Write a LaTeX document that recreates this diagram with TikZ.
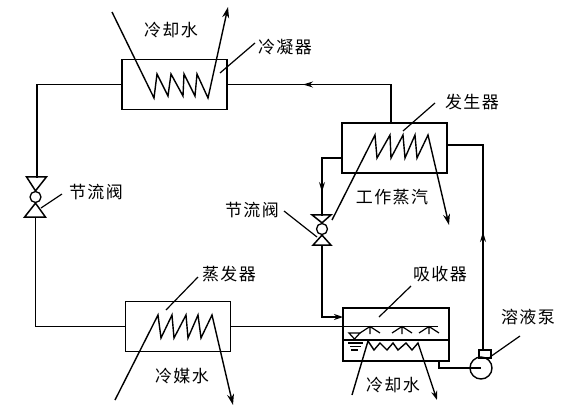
\documentclass[tikz,border=0pt]{standalone}
\usepackage{fontspec}
\setmainfont{Noto Sans CJK SC}[LetterSpace=8]
\usetikzlibrary{arrows.meta,positioning,calc}

\begin{document}
\begin{tikzpicture}[
  x=1pt, y=-1pt,
  font=\fontsize{17}{19}\selectfont,
  box/.style={draw, line width=1.5pt, inner sep=0pt, minimum height=50pt, minimum width=105pt},
  valvecirc/.style={draw, circle, line width=1.3pt, inner sep=0pt, minimum size=11pt},
  pipe/.style={line width=1.2pt},
  arrow/.style={-{Stealth[length=9pt,width=6pt]}, line width=1.2pt},
  midtip/.style={-{Stealth[length=10pt,width=6pt]}, line width=1.2pt},
  lead/.style={line width=1.2pt},
  coil/.style={line width=1.4pt, line join=miter, -{Stealth[length=11pt,width=7pt]}},
  lab/.style={inner sep=0pt}
]
\useasboundingbox (0,0) rectangle (571,407);

% --- Heat exchangers ---------------------------------------------------------
\node[box] (cond) at (174.5,84.5) {};
\node[box] (gen) at (394.5,148) {};
\node[box] (evap) at (178,326.5) {};
\node[box, minimum width=106pt, minimum height=53pt] (abs) at (396,334.5) {};

% --- Valves and pump ---------------------------------------------------------
\node[valvecirc] (vA) at (35.5,197) {};
\node[valvecirc] (vB) at (322,229) {};
\draw[pipe, line width=1.5pt] (vA.north) -- ++(-9,-14) -- ++(20,0) -- cycle;
\draw[pipe, line width=1.5pt] (vA.south) -- ++(-11,14) -- ++(21,0) -- cycle;
\draw[pipe, line width=1.5pt] (vB.north) -- ++(-10,-8) -- ++(19,0) -- cycle;
\draw[pipe, line width=1.5pt] (vB.south) -- ++(-9,10) -- ++(18,0) -- cycle;
\node[draw, circle, line width=1.4pt, inner sep=0pt, minimum size=22pt] (pump) at (481,368) {};
\node[draw, line width=1.2pt, inner sep=0pt, minimum width=12pt, minimum height=8pt] (pumpout) at (485,354) {};

% --- Pipes -------------------------------------------------------------------
\coordinate (valveA) at ($(vA)+(1.5,-19)$);
\coordinate (valveAb) at ($(vA)+(0,20)$);
\coordinate (valveBt) at ($(vB)+(0,-13)$);
\coordinate (valveBb) at ($(vB)+(0,16)$);
\coordinate (cTip) at (303,84.5);
\coordinate (gUp) at (391,84.5);
\coordinate (gLeft) at (342,158);
\coordinate (gRight) at (447,145);
\coordinate (sprayEnd) at (438,326.5);
\coordinate (absOut) at (439,361);
\coordinate (pumpIn) at (483,350);
\coordinate (absIn) at (343,317);

\draw[pipe] (cond.west) -| (valveA);
\draw[pipe] (valveAb) |- (evap.west);
\draw[pipe] (cond.east) -- (gUp) -- (gen.north -| gUp);
\draw[midtip] (gUp) -- (cTip);
\draw[pipe] (gLeft) -| (valveBt);
\draw[midtip] (gLeft -| valveBt) -- ++(0,34);
\draw[arrow] (valveBb) |- (absIn);
\draw[pipe] (evap.east) -- (sprayEnd);
\draw[pipe] (gRight) -| (pumpIn);
\draw[midtip] (483,260) -- (483,232);
\draw[pipe] (absOut) |- (pump.center);

% --- Coils -------------------------------------------------------------------
\draw[coil] (112,12) -- (154,98) -- (157,74) -- (168,96) -- (171,74) -- (183,96) -- (184,74) -- (195,96) -- (197,74) -- (208,98) -- (228,7);
\draw[coil] (332,220) -- (375,135) -- (377,158) -- (390,135) -- (391,158) -- (403,135) -- (405,158) -- (415,135) -- (417,158) -- (428,135) -- (449,225);
\draw[coil] (115,400) -- (158,315) -- (161,338) -- (172,315) -- (174,338) -- (186,315) -- (188,338) -- (198,315) -- (201,338) -- (212,315) -- (233,405);
\draw[coil, -{Stealth[length=9pt,width=6pt]}] (352,395) -- (368,341) -- (374,350) -- (380,343) -- (387,350) -- (393,343) -- (398,350) -- (406,343) -- (412,350) -- (418,343) -- (437,400);

% --- Absorber details --------------------------------------------------------
\draw[pipe] (abs.west |- 0,340) -- (abs.east |- 0,340);
\draw[pipe] (349,333) -- (360,333) -- (354.5,339) -- cycle;
\draw[pipe] (348,343) -- (363,343) (350,346.5) -- (361,346.5) (351,350) -- (358,350);
\foreach \sx in {370,402,429}
  \draw[pipe] (\sx,334) -- (\sx,326.5) (\sx-10,333) -- (\sx,326.5) -- (\sx+10,333);

% --- Labels and leaders ------------------------------------------------------
\node[lab] (tCool) at (171,30) {冷却水};
\node[lab] (tCond) at (285,47) {冷凝器};
\node[lab] (tGen) at (472,102) {发生器};
\node[lab] (tSteam) at (392,197) {工作蒸汽};
\node[lab] (tVA) at (96,192) {节流阀};
\node[lab] (tVB) at (252,210) {节流阀};
\node[lab] (tEvap) at (229,274) {蒸发器};
\node[lab] (tChill) at (182,376) {冷媒水};
\node[lab] (tAbs) at (440,274) {吸收器};
\node[lab] (tCoolB) at (393,385) {冷却水};
\node[lab] (tPump) at (528,317) {溶液泵};

\draw[lead] (255,43) -- (220,73);
\draw[lead] (435,103) -- (403,131);
\draw[lead] (62,194) -- (41,208);
\draw[lead] (284,211) -- (317,237);
\draw[lead] (198,277) -- (166,310);
\draw[lead] (411,286) -- (379,317);
\draw[lead] (520,336) -- (490,357);
\end{tikzpicture}
\end{document}
